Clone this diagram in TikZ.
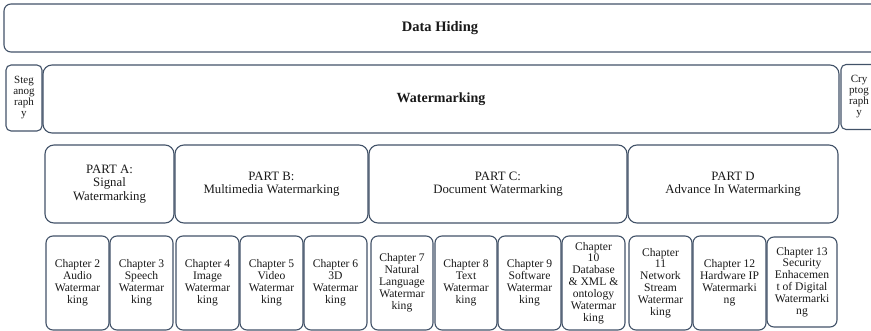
\documentclass[tikz,border=0pt]{standalone}
\usepackage{fontspec}
\setmainfont{Liberation Serif}
\definecolor{edge}{RGB}{66,82,104}
\definecolor{ink}{RGB}{25,25,25}
\tikzset{
  rbox/.style={draw=edge, line width=1.1pt, rounded corners=7pt, inner sep=0pt,
               align=center, text=ink},
  topbox/.style={rbox, font=\bfseries\fontsize{14.5}{16}\selectfont},
  sidebox/.style={rbox, rounded corners=5pt, font=\fontsize{11}{11}\selectfont},
  partbox/.style={rbox, rounded corners=9pt, minimum height=78pt,
                  font=\fontsize{12.8}{13.6}\selectfont},
  chapbox/.style={rbox, minimum height=94pt, font=\fontsize{11.6}{11.9}\selectfont},
}
\begin{document}
\begin{tikzpicture}[x=1pt, y=-1pt]
\useasboundingbox (0,0) rectangle (871,331);
\clip (0,0) rectangle (871,331);

% top level: the frame runs on past the right edge
\node[rbox, minimum width=896pt, minimum height=48pt] (hidingframe) at (452,28) {};
\node[font=\bfseries\fontsize{14.5}{16}\selectfont, text=ink] (hiding) at (440,28) {Data Hiding};

% second level
\node[sidebox, minimum width=36pt, minimum height=66pt] (stego) at (24,98) {Steg\\anog\\raph\\y};
\node[topbox, rounded corners=9pt, font=\bfseries\fontsize{14}{16}\selectfont,
      minimum width=796pt, minimum height=68pt] (wm) at (441,99) {Watermarking};
\node[sidebox, minimum width=36pt, minimum height=65pt] (crypto) at (859,97) {Cry\\ptog\\raph\\y};

% parts
\node[partbox, minimum width=129pt] (pa) at (109.5,184) {PART A:\\Signal\\Watermarking};
\node[partbox, minimum width=193pt] (pb) at (271.5,184) {PART B:\\Multimedia Watermarking};
\node[partbox, minimum width=258pt] (pc) at (498,184) {PART C:\\Document Watermarking};
\node[partbox, minimum width=210pt] (pd) at (733,184) {PART D\\Advance In Watermarking};

% chapters
\node[chapbox, minimum width=63pt] (c2) at (77.5,283) {Chapter 2\\Audio\\Watermar\\king};
\node[chapbox, minimum width=63pt] (c3) at (141.5,283) {Chapter 3\\Speech\\Watermar\\king};
\node[chapbox, minimum width=63pt] (c4) at (207.5,283) {Chapter 4\\Image\\Watermar\\king};
\node[chapbox, minimum width=63pt] (c5) at (271.5,283) {Chapter 5\\Video\\Watermar\\king};
\node[chapbox, minimum width=63pt] (c6) at (335.5,283) {Chapter 6\\3D\\Watermar\\king};
\node[chapbox, minimum width=62pt] (c7) at (402,283) {Chapter 7\\Natural\\Language\\Watermar\\king};
\node[chapbox, minimum width=62pt] (c8) at (466,283) {Chapter 8\\Text\\Watermar\\king};
\node[chapbox, minimum width=63pt] (c9) at (529.5,283) {Chapter 9\\Software\\Watermar\\king};
\node[chapbox, minimum width=63pt] (c10) at (593.5,283) {Chapter\\10\\Database\\\& XML \&\\ontology\\Watermar\\king};
\node[chapbox, minimum width=63pt] (c11) at (660.5,283) {Chapter\\11\\Network\\Stream\\Watermar\\king};
\node[chapbox, minimum width=73pt] (c12) at (729.5,283) {Chapter 12\\Hardware IP\\Watermarki\\ng};
\node[chapbox, minimum width=70pt, minimum height=90pt] (c13) at (802,282) {Chapter 13\\Security\\Enhacemen\\t of Digital\\Watermarki\\ng};
\end{tikzpicture}
\end{document}
